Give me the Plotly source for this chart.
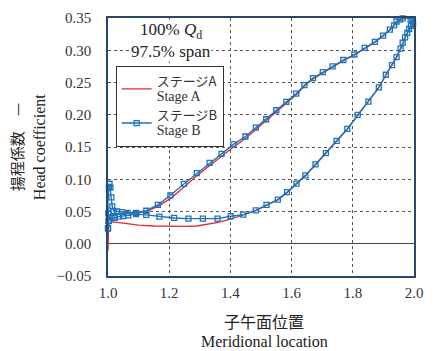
import plotly.graph_objects as go

# Stage B: closed loop, leading edge -> lower branch -> trailing edge -> upper branch -> leading edge
stage_b_x = [
    1.000, 1.002, 1.006, 1.012, 1.022, 1.035, 1.050, 1.066, 1.092, 1.125,
    1.168, 1.216, 1.263, 1.310, 1.358, 1.401, 1.442, 1.483, 1.518, 1.555,
    1.585, 1.616, 1.645, 1.678, 1.712, 1.747, 1.782, 1.816, 1.851, 1.885,
    1.908, 1.928, 1.943, 1.956, 1.963, 1.971, 1.978, 1.984, 1.990, 1.997,
    1.995, 1.989, 1.980, 1.972,
    1.963, 1.954, 1.943, 1.935, 1.921, 1.899, 1.872, 1.839, 1.805, 1.769,
    1.734, 1.702, 1.670, 1.642, 1.615, 1.583, 1.550, 1.517, 1.483, 1.449,
    1.410, 1.371, 1.332, 1.290, 1.248, 1.204, 1.163, 1.125, 1.092, 1.064,
    1.045, 1.030, 1.018, 1.014, 1.011, 1.008, 1.005, 1.003, 0.9995, 1.001,
    1.002, 1.000,
]
stage_b_y = [
    0.024, 0.035, 0.041, 0.041, 0.040, 0.042, 0.043, 0.044, 0.046, 0.0447,
    0.042, 0.040, 0.039, 0.039, 0.039, 0.0426, 0.045, 0.0517, 0.0603, 0.0684,
    0.080, 0.0933, 0.106, 0.123, 0.1404, 0.1596, 0.178, 0.1997, 0.2204, 0.2423,
    0.262, 0.277, 0.2894, 0.3025, 0.3116, 0.320, 0.327, 0.333, 0.338, 0.341,
    0.345, 0.348, 0.3505, 0.3505,
    0.3495, 0.3475, 0.3446, 0.3385, 0.332, 0.3228, 0.3131, 0.3036, 0.2934, 0.2849,
    0.2751, 0.266, 0.2569, 0.2458, 0.2326, 0.220, 0.207, 0.193, 0.180, 0.1663,
    0.1541, 0.1394, 0.1253, 0.1094, 0.0927, 0.0751, 0.0603, 0.0512, 0.048, 0.048,
    0.049, 0.050, 0.051, 0.058, 0.072, 0.087, 0.093, 0.088, 0.064, 0.047,
    0.0355, 0.024,
]

# Stage A: same loop, traced as a line only
stage_a_x = [
    1.000, 1.000, 1.002, 1.006, 1.015, 1.030, 1.060, 1.100, 1.150, 1.200,
    1.250, 1.290, 1.330, 1.360, 1.400, 1.440, 1.483, 1.518, 1.555, 1.585,
    1.616, 1.645, 1.678, 1.712, 1.747, 1.782, 1.816, 1.851, 1.885, 1.908,
    1.928, 1.943, 1.956, 1.963, 1.971, 1.978, 1.985, 1.993, 1.999, 2.000,
    1.995, 1.985, 1.975,
    1.966, 1.956, 1.943, 1.935, 1.921, 1.899, 1.872, 1.839, 1.805, 1.769,
    1.734, 1.702, 1.670, 1.642, 1.615, 1.583, 1.550, 1.517, 1.483, 1.449,
    1.410, 1.371, 1.332, 1.290, 1.248, 1.204, 1.163, 1.125, 1.092, 1.064,
    1.040, 1.020, 1.008, 1.003, 1.000,
]
stage_a_y = [
    -0.011, 0.020, 0.029, 0.032, 0.034, 0.033, 0.031, 0.029, 0.0275, 0.027,
    0.027, 0.0275, 0.030, 0.033, 0.038, 0.044, 0.0515, 0.060, 0.068, 0.079,
    0.0925, 0.1055, 0.1225, 0.140, 0.159, 0.1775, 0.199, 0.220, 0.242, 0.2615,
    0.2765, 0.289, 0.302, 0.311, 0.3195, 0.326, 0.332, 0.336, 0.340, 0.346,
    0.350, 0.3505, 0.350,
    0.3495, 0.348, 0.3445, 0.338, 0.3315, 0.322, 0.3125, 0.303, 0.2925, 0.284,
    0.274, 0.265, 0.2555, 0.2445, 0.231, 0.218, 0.2045, 0.1905, 0.177, 0.163,
    0.150, 0.1355, 0.121, 0.1055, 0.0877, 0.070, 0.058, 0.050, 0.0475, 0.047,
    0.047, 0.046, 0.044, 0.040, 0.030,
]

x_ticks = [1.0, 1.2, 1.4, 1.6, 1.8, 2.0]
y_ticks = [-0.05, 0.00, 0.05, 0.10, 0.15, 0.20, 0.25, 0.30, 0.35]

LATIN = "Times New Roman, Liberation Serif, DejaVu Serif, serif"
CJK = "Noto Sans CJK JP"
FRAME = "#27486b"
GRID = "#555555"
RED = "#e8262b"
BLUE = "#1c74bb"


def legend_label(jp, en):
    return (f"<span style='font-family:{CJK};font-size:13px'>{jp}</span>"
            f"<br><span style='font-size:14px'>{en}</span>")


fig = go.Figure()
fig.add_trace(go.Scatter(
    x=stage_a_x, y=stage_a_y, mode="lines",
    name=legend_label("ステージA", "Stage A"),
    line=dict(color=RED, width=1.3),
    cliponaxis=False,
))
fig.add_trace(go.Scatter(
    x=stage_b_x, y=stage_b_y, mode="lines+markers",
    name=legend_label("ステージB", "Stage B"),
    line=dict(color=BLUE, width=1.4),
    marker=dict(symbol="square-open", size=5, color=BLUE, line=dict(width=1.3)),
    cliponaxis=False,
))

fig.update_layout(
    width=433, height=351,
    margin=dict(l=108, r=10, t=13, b=75),
    paper_bgcolor="white", plot_bgcolor="white",
    font=dict(family=LATIN, size=14, color="#222"),
    showlegend=True,
    legend=dict(
        x=0.025, y=0.815, xanchor="left", yanchor="top",
        bgcolor="white", bordercolor="#333", borderwidth=1,
        font=dict(family=LATIN, size=12, color="#333"),
        itemwidth=30, tracegroupgap=0,
    ),
    xaxis=dict(
        range=[1.0, 2.0], tickvals=x_ticks, tickformat=".1f",
        showgrid=True, gridcolor=GRID, griddash="dot", gridwidth=1,
        showline=True, linecolor=FRAME, linewidth=1.5, mirror=True,
        ticks="", ticklabelstandoff=2, zeroline=False,
        tickfont=dict(family=LATIN, size=15, color="#333"),
    ),
    yaxis=dict(
        range=[-0.05, 0.35], tickvals=y_ticks, tickformat=".2f",
        showgrid=True, gridcolor=GRID, griddash="dot", gridwidth=1,
        showline=True, linecolor=FRAME, linewidth=1.5, mirror=True,
        ticks="", ticklabelstandoff=12,
        zeroline=True, zerolinecolor="#444", zerolinewidth=1,
        tickfont=dict(family=LATIN, size=15, color="#333"),
    ),
)

# condition labels
fig.add_annotation(
    text="100% <i>Q</i><sub>d</sub>", xref="paper", yref="paper",
    x=0.206, y=0.948, xanchor="center", yanchor="middle",
    showarrow=False, bgcolor="white", borderpad=0,
    font=dict(family=LATIN, size=17, color="#222"),
)
fig.add_annotation(
    text="97.5% span", xref="paper", yref="paper",
    x=0.206, y=0.872, xanchor="center", yanchor="middle",
    showarrow=False, bgcolor="white", borderpad=0,
    font=dict(family=LATIN, size=17, color="#222"),
)

# axis titles
fig.add_annotation(
    text="揚程係数　—", xref="paper", yref="paper", x=-0.300, y=0.5,
    xanchor="center", yanchor="middle", textangle=-90, showarrow=False,
    font=dict(family=CJK, size=15, color="#222"),
)
fig.add_annotation(
    text="Head coefficient", xref="paper", yref="paper", x=-0.225, y=0.5,
    xanchor="center", yanchor="middle", textangle=-90, showarrow=False,
    font=dict(family=LATIN, size=16, color="#222"),
)
fig.add_annotation(
    text="子午面位置", xref="paper", yref="paper", x=0.51, y=-0.173,
    xanchor="center", yanchor="middle", showarrow=False,
    font=dict(family=CJK, size=16, color="#222"),
)
fig.add_annotation(
    text="Meridional location", xref="paper", yref="paper", x=0.51, y=-0.255,
    xanchor="center", yanchor="middle", showarrow=False,
    font=dict(family=LATIN, size=16, color="#222"),
)

fig.write_html("out.html")
